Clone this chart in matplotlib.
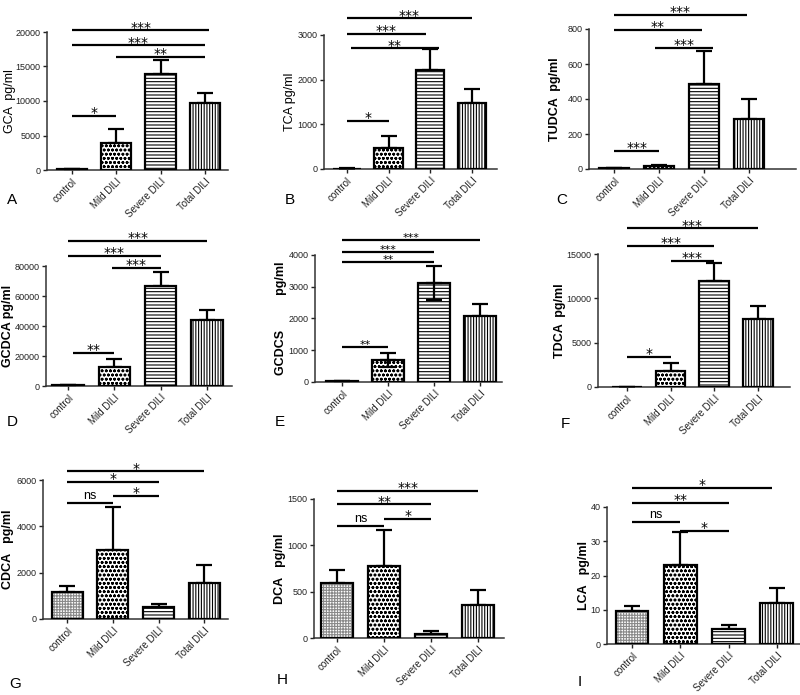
import numpy as np
import matplotlib.pyplot as plt

plt.rcParams['font.family'] = ['Liberation Sans', 'DejaVu Sans']
plt.rcParams['hatch.linewidth'] = 0.8

groups = ['control', 'Mild DILI', 'Severe DILI', 'Total DILI']

# means and SEM (pg/ml)
gca_mean = [120, 3950, 13880, 9730]
gca_sem = [40, 1980, 2020, 1500]
tca_mean = [10, 477, 2217, 1485]
tca_sem = [5, 270, 470, 313]
tudca_mean = [5, 18, 486, 285]
tudca_sem = [1, 7, 190, 115]
gcdca_mean = [800, 13000, 66500, 43800]
gcdca_sem = [200, 5000, 9300, 6700]
gcdcs_mean = [30, 690, 3120, 2070]
gcdcs_sem = [5, 230, 530, 380]
tdca_mean = [20, 1850, 11900, 7650]
tdca_sem = [5, 900, 2100, 1450]
cdca_mean = [1170, 3000, 520, 1560]
cdca_sem = [270, 1850, 140, 790]
dca_mean = [597, 780, 47, 356]
dca_sem = [137, 386, 29, 162]
lca_mean = [9.6, 23.0, 4.3, 12.1]
lca_sem = [1.6, 9.7, 1.3, 4.2]

# significance brackets: (from group, to group, height, label)
gca_sig = [(0, 3.1, 20240, '***'), (0, 3, 18070, '***'), (1, 3, 16390, '**'), (0, 1, 7810, '*')]
tca_sig = [(0, 3, 3374, '***'), (0, 1.9, 3023, '***'), (0.1, 2.2, 2702, '**'), (0, 1, 1075, '*')]
tudca_sig = [(0, 2.95, 880, '***'), (0, 1.95, 794, '**'), (0.9, 2.2, 691, '***'), (0, 1, 105, '***')]
gcdca_sig = [(0, 3, 96700, '***'), (0, 2, 86700, '***'), (0.95, 2, 78700, '***'), (0.1, 1, 22000, '**')]
gcdcs_sig = [(0, 3, 4470, '***'), (0, 2, 4100, '***'), (0, 2, 3780, '**'), (0, 1, 1100, '**')]
tdca_sig = [(0, 3, 17900, '***'), (0, 2, 15900, '***'), (1, 2, 14200, '***'), (0, 1, 3400, '*')]
cdca_sig = [(0, 3, 6380, '*'), (0, 2, 5920, '*'), (1, 2, 5320, '*'), (0, 1, 4990, 'ns')]
dca_sig = [(0, 3, 1590, '***'), (0, 2, 1443, '**'), (1, 2, 1284, '*'), (0, 1, 1209, 'ns')]
lca_sig = [(0, 2.9, 45.6, '*'), (0, 2, 41.3, '**'), (0, 1, 35.6, 'ns'), (1, 2, 33.0, '*')]

W, H = 800, 695
fig = plt.figure(figsize=(8, 6.95), dpi=100)


def px_axes(l, r, b, t):
    return fig.add_axes([l / W, 1 - b / H, (r - l) / W, (b - t) / H])


panels = [
    # letter, ylabel, bold, mean, sem, sig, two-sided err groups, ticks, box, xlim, label x, letter xy,
    # fine control hatch, star size
    ('A', 'GCA  pg/ml', False, gca_mean, gca_sem, gca_sig, [], [0, 5000, 10000, 15000, 20000],
     (47, 228, 170, 32), (-0.56, 3.52), 10, (12, 200), False, 10),
    ('B', 'TCA pg/ml', False, tca_mean, tca_sem, tca_sig, [], [0, 1000, 2000, 3000],
     (324, 497, 169, 35), (-0.55, 3.6), 290, (290, 200), False, 10),
    ('C', 'TUDCA  pg/ml', True, tudca_mean, tudca_sem, tudca_sig, [], [0, 200, 400, 600, 800],
     (589, 796, 169, 29), (-0.56, 4.05), 555, (562, 200), False, 10),
    ('D', 'GCDCA pg/ml', True, gcdca_mean, gcdca_sem, gcdca_sig, [], [0, 20000, 40000, 60000, 80000],
     (46, 232, 386, 266), (-0.48, 3.54), 8, (12, 422), False, 10),
    ('E', 'GCDCS          pg/ml', True, gcdcs_mean, gcdcs_sem, gcdcs_sig, [1, 2], [0, 1000, 2000, 3000, 4000],
     (315, 502, 382, 255), (-0.59, 3.48), 281, (280, 422), False, 8),
    ('F', 'TDCA  pg/ml', True, tdca_mean, tdca_sem, tdca_sig, [], [0, 5000, 10000, 15000],
     (598, 790, 387, 254), (-0.66, 3.73), 560, (565, 424), False, 10),
    ('G', 'CDCA   pg/ml', True, cdca_mean, cdca_sem, cdca_sig, [], [0, 2000, 4000, 6000],
     (43, 228, 619, 480), (-0.53, 3.52), 8, (15, 684), True, 10),
    ('H', 'DCA   pg/ml', True, dca_mean, dca_sem, dca_sig, [], [0, 500, 1000, 1500],
     (314, 504, 638, 499), (-0.49, 3.55), 280, (282, 680), True, 10),
    ('I', 'LCA   pg/ml', True, lca_mean, lca_sem, lca_sig, [], [0, 10, 20, 30, 40],
     (607, 800, 644, 507), (-0.52, 3.48), 584, (580, 682), True, 10),
]

hatches = ['', 'oooo', '-----', '||||||']
x = np.arange(len(groups))

for (letter, ylab, bold, mean, sem, sig, twosided, ticks, box, xlim,
     lab_x, letter_xy, fine_ctrl, star_size) in panels:
    ax = px_axes(*box)
    mean = np.array(mean, dtype=float)
    sem = np.array(sem, dtype=float)

    lower = np.zeros(len(groups))
    for g in twosided:
        lower[g] = sem[g]
    ax.errorbar(x, mean, yerr=[lower, sem], fmt='none', ecolor='black',
                elinewidth=1.6, capsize=6, capthick=1.6, zorder=1)

    for i in range(len(groups)):
        h = hatches[i]
        hcol = 'black'
        if i == 0:
            h = '++++++' if fine_ctrl else ''
            hcol = '#8a8a8a'
        ax.bar(x[i], mean[i], width=0.68, color='white', edgecolor=hcol,
               hatch=h, linewidth=0, zorder=2)
        ax.bar(x[i], mean[i], width=0.68, fill=False, edgecolor='black',
               linewidth=1.6, zorder=3)
    if twosided:
        ax.errorbar(x[twosided], mean[twosided], yerr=[lower[twosided], np.zeros(len(twosided))],
                    fmt='none', ecolor='black', elinewidth=1.6, capsize=6, capthick=1.6, zorder=4)

    for x1, x2, y, txt in sig:
        ax.plot([x1, x2], [y, y], color='black', lw=1.6, clip_on=False, solid_capstyle='butt')
        if txt == 'ns':
            ax.annotate(txt, ((x1 + x2) / 2, y), xytext=(0, 1), textcoords='offset points',
                        ha='center', va='bottom', fontsize=9, annotation_clip=False)
        else:
            ax.annotate(txt, ((x1 + x2) / 2, y), xytext=(0, -1), textcoords='offset points',
                        ha='center', va='baseline', fontsize=star_size, annotation_clip=False,
                        family='DejaVu Sans')

    ax.set_xlim(*xlim)
    ax.set_ylim(0, ticks[-1])
    ax.set_yticks(ticks)
    ax.set_yticklabels([str(t) for t in ticks], fontsize=6.5)
    ax.set_xticks(x)
    ax.set_xticklabels(groups, rotation=45, ha='right', rotation_mode='anchor', fontsize=7)
    ax.tick_params(axis='both', length=3, width=1, pad=1.5, colors='#222222')
    for s in ['top', 'right']:
        ax.spines[s].set_visible(False)
    for s in ['left', 'bottom']:
        ax.spines[s].set_linewidth(1.1)
        ax.spines[s].set_color('#333333')

    cy = (box[2] + box[3]) / 2
    fig.text(lab_x / W, 1 - cy / H, ylab, rotation=90, ha='center', va='center',
             fontsize=9, fontweight='bold' if bold else 'normal')
    fig.text(letter_xy[0] / W, 1 - letter_xy[1] / H, letter, ha='center', va='center', fontsize=11)

fig.savefig('out.png', dpi=100)
